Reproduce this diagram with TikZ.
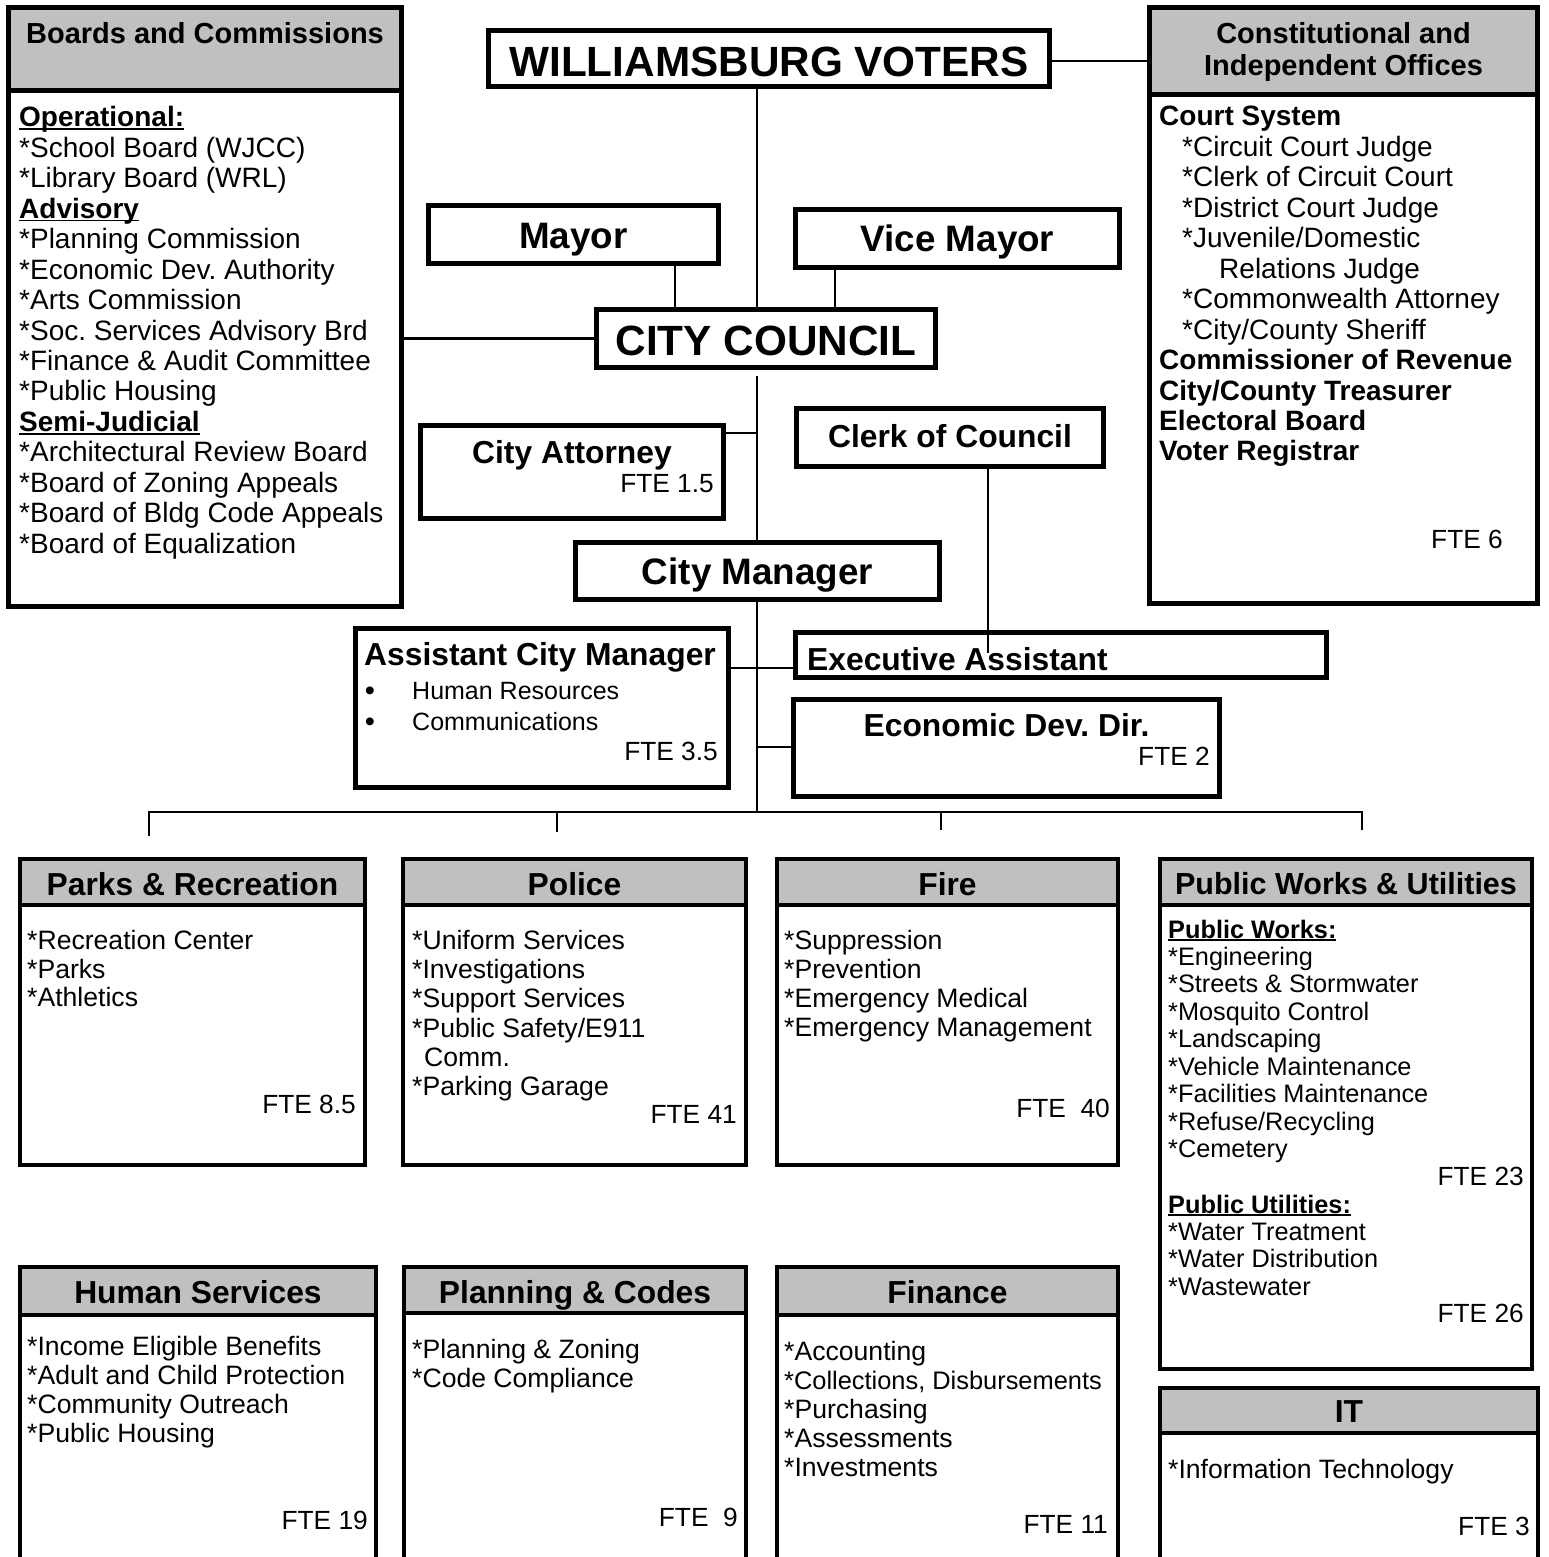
\documentclass[tikz,border=0pt]{standalone}
\usepackage{fontspec}
\setmainfont{Liberation Sans}
\usetikzlibrary{fit}
\definecolor{hdrgray}{RGB}{192,192,192}
\newcommand\fsz[1]{\fontsize{#1}{#1}\selectfont}
\newcommand\uln[1]{\leavevmode\setbox0\hbox{#1}\rlap{\rule[-3.2pt]{\wd0}{1.8pt}}\box0}
\tikzset{
  bigbox/.style={draw=black, line width=5pt, fill=white, inner sep=0pt},
  bighdr/.style={draw=black, line width=5pt, fill=hdrgray, inner sep=0pt},
  deptbox/.style={draw=black, line width=3.5pt, fill=white, inner sep=0pt},
  depthdr/.style={draw=black, line width=3.5pt, fill=hdrgray, inner sep=0pt},
  conn/.style={line width=2.2pt, draw=black},
  tx/.style={inner sep=0pt, anchor=base west},
  txc/.style={inner sep=0pt, anchor=base},
  txr/.style={inner sep=0pt, anchor=base east},
  ttlA/.style={font=\fsz{29}\bfseries},
  ttlB/.style={font=\fsz{42.3}\bfseries},
  ttlC/.style={font=\fsz{36.8}\bfseries},
  ttlD/.style={font=\fsz{31.8}\bfseries},
  bodyA/.style={font=\fsz{28}},
  bodyB/.style={font=\fsz{26.6}},
  bodyC/.style={font=\fsz{25.3}},
  fte/.style={font=\fsz{26.3}}
}
\begin{document}
\frenchspacing
\begin{tikzpicture}[x=1pt,y=-1pt]
\useasboundingbox (0,0) rectangle (1548,1557);
\clip (0,0) rectangle (1548,1557);
\fill[white] (0,0) rectangle (1548,1557);

% ---------- coordinates for connectors ----------
\coordinate (trunk) at (757,0);
\coordinate (mx) at (675,0);
\coordinate (vx) at (835,0);
\coordinate (cx) at (988,0);
\coordinate (vY) at (0,61);
\coordinate (attY) at (0,433);
\coordinate (aeY) at (0,668);
\coordinate (ecY) at (0,747);
\coordinate (busY) at (0,812);
\coordinate (d1) at (149,836);
\coordinate (d2) at (557,832);
\coordinate (d3) at (941,830);
\coordinate (d4) at (1362,830);
\coordinate (clerkEnd) at (988,653);

% ---------- Boards and Commissions ----------
\node[bigbox, fit={(8.5,7.5) (401.5,606.5)}] (boards) {};
\node[bighdr, fit={(8.5,7.5) (401.5,91)}] (boardsH) {};
\node[txc, ttlA] (boardsT) at (205,43.4) {Boards and Commissions};
\foreach \t [count=\i from 0] in {
  {\bfseries\uln{Operational:}},
  {*School Board (WJCC)},
  {*Library Board (WRL)},
  {\bfseries\uln{Advisory}},
  {*Planning Commission},
  {*Economic Dev. Authority},
  {*Arts Commission},
  {*Soc. Services Advisory Brd},
  {*Finance \& Audit Committee},
  {*Public Housing},
  {\bfseries\uln{Semi-Judicial}},
  {*Architectural Review Board},
  {*Board of Zoning Appeals},
  {*Board of Bldg Code Appeals},
  {*Board of Equalization}}
  \node[tx, bodyA] (bl\i) at (19,{127+\i*30.43}) {\t};

% ---------- Constitutional and Independent Offices ----------
\node[bigbox, fit={(1149.5,7.5) (1537.5,603.5)}] (cons) {};
\node[bighdr, fit={(1149.5,7.5) (1537.5,95)}] (consH) {};
\node[txc, ttlA] (consT1) at (1343.5,43.4) {Constitutional and};
\node[txc, ttlA] (consT2) at (1343.5,75.4) {Independent Offices};
\foreach \t [count=\i from 0] in {
  {\bfseries Court System},
  {\hspace*{23pt}*Circuit Court Judge},
  {\hspace*{23pt}*Clerk of Circuit Court},
  {\hspace*{23pt}*District Court Judge},
  {\hspace*{23pt}*Juvenile/Domestic},
  {\hspace*{60pt}Relations Judge},
  {\hspace*{23pt}*Commonwealth Attorney},
  {\hspace*{23pt}*City/County Sheriff},
  {\bfseries Commissioner of Revenue},
  {\bfseries City/County Treasurer},
  {\bfseries Electoral Board},
  {\bfseries Voter Registrar}}
  \node[tx, bodyA] (cl\i) at (1159,{126+\i*30.45}) {\t};
\node[txr, fte] (consF) at (1503,548.3) {FTE 6};

% ---------- central chain ----------
\node[bigbox, fit={(488.5,30.5) (1049.5,86.5)}] (voters) {};
\node[txc, ttlB] (votersT) at (769,76.2) {WILLIAMSBURG VOTERS};

\node[bigbox, fit={(428.5,205.5) (718.5,263.5)}] (mayor) {};
\node[txc, ttlC] (mayorT) at (573.5,248.2) {Mayor};

\node[bigbox, fit={(795.5,209.5) (1119.5,267.5)}] (vice) {};
\node[txc, ttlC] (viceT) at (957.5,251.2) {Vice Mayor};

\node[bigbox, fit={(596.5,309.5) (935.5,367.5)}] (council) {};
\node[txc, ttlB] (councilT) at (766,355.1) {CITY COUNCIL};

\node[bigbox, fit={(420.5,425.5) (723.5,518.5)}] (attorney) {};
\node[txc, ttlD] (attorneyT) at (572,463.4) {City Attorney};
\node[txr, fte] (attorneyF) at (714,492.4) {FTE 1.5};

\node[bigbox, fit={(796.5,408.5) (1103.5,466.5)}] (clerk) {};
\node[txc, ttlD] (clerkT) at (950,447.4) {Clerk of Council};

\node[bigbox, fit={(575.5,542.5) (939.5,599.5)}] (manager) {};
\node[txc, ttlC] (managerT) at (757.5,584.2) {City Manager};

\node[bigbox, fit={(355.5,628.5) (728.5,787.5)}] (asst) {};
\node[tx, ttlD] (asstT) at (364,665.4) {Assistant City Manager};
\node[txc, font=\fsz{29}] (asstB1) at (370,700) {\textbullet};
\node[tx, font=\fsz{25}] (asstL1) at (412,699) {Human Resources};
\node[txc, font=\fsz{29}] (asstB2) at (370,731) {\textbullet};
\node[tx, font=\fsz{25}] (asstL2) at (412,730) {Communications};
\node[txr, fte] (asstF) at (718,760.4) {FTE 3.5};

\node[bigbox, fit={(795.5,632.5) (1326.5,677.5)}] (exec) {};
\node[tx, ttlD] (execT) at (807,670.4) {Executive Assistant};

\node[bigbox, fit={(793.5,699.5) (1219.5,796.5)}] (econ) {};
\node[txc, ttlD] (econT) at (1006.5,736.4) {Economic Dev. Dir.};
\node[txr, fte] (econF) at (1210,765.4) {FTE 2};

% ---------- departments, first row ----------
\node[deptbox, fit={(20,859) (365,1165)}] (parks) {};
\node[depthdr, fit={(20,859) (365,905)}] (parksH) {};
\node[txc, ttlD] (parksT) at (192.5,895.4) {Parks \& Recreation};
\foreach \t [count=\i from 0] in {{*Recreation Center},{*Parks},{*Athletics}}
  \node[tx, bodyB] (pk\i) at (27,{949.5+\i*28.5}) {\t};
\node[txr, fte] (parksF) at (356,1113.4) {FTE 8.5};

\node[deptbox, fit={(403,859) (746,1165)}] (police) {};
\node[depthdr, fit={(403,859) (746,905)}] (policeH) {};
\node[txc, ttlD] (policeT) at (574.5,895.4) {Police};
\foreach \t [count=\i from 0] in {{*Uniform Services},{*Investigations},{*Support Services},{*Public Safety/E911},{\hspace*{12pt}Comm.},{*Parking Garage}}
  \node[tx, bodyB] (pl\i) at (412,{949.5+\i*29.2}) {\t};
\node[txr, fte] (policeF) at (737,1123.4) {FTE 41};

\node[deptbox, fit={(777,859) (1118,1165)}] (fire) {};
\node[depthdr, fit={(777,859) (1118,905)}] (fireH) {};
\node[txc, ttlD] (fireT) at (947.5,895.4) {Fire};
\foreach \t [count=\i from 0] in {{*Suppression},{*Prevention},{*Emergency Medical},{*Emergency Management}}
  \node[tx, bodyB] (fr\i) at (784,{949.5+\i*29}) {\t};
\node[txr, fte] (fireF) at (1110,1117.4) {FTE\ \ 40};

\node[deptbox, fit={(1160,859) (1532,1369)}] (pw) {};
\node[depthdr, fit={(1160,859) (1532,905)}] (pwH) {};
\node[txc, font=\fsz{30.5}\bfseries] (pwT) at (1346,894.9) {Public Works \& Utilities};
\foreach \t [count=\i from 0] in {
  {\bfseries\uln{Public Works:}},
  {*Engineering},
  {*Streets \& Stormwater},
  {*Mosquito Control},
  {*Landscaping},
  {*Vehicle Maintenance},
  {*Facilities Maintenance},
  {*Refuse/Recycling},
  {*Cemetery}}
  \node[tx, bodyC] (pwa\i) at (1168,{938+\i*27.43}) {\t};
\node[txr, fte] (pwF1) at (1524,1185.1) {FTE 23};
\foreach \t [count=\i from 0] in {
  {\bfseries\uln{Public Utilities:}},
  {*Water Treatment},
  {*Water Distribution},
  {*Wastewater}}
  \node[tx, bodyC] (pwb\i) at (1168,{1213+\i*27.43}) {\t};
\node[txr, fte] (pwF2) at (1524,1322.4) {FTE 26};

% ---------- departments, second row ----------
\node[deptbox, fit={(20,1267) (376,1620)}] (hs) {};
\node[depthdr, fit={(20,1267) (376,1315)}] (hsH) {};
\node[txc, ttlD] (hsT) at (198,1303.4) {Human Services};
\foreach \t [count=\i from 0] in {{*Income Eligible Benefits},{*Adult and Child Protection},{*Community Outreach},{*Public Housing}}
  \node[tx, bodyB] (hs\i) at (27,{1355.5+\i*29}) {\t};
\node[txr, fte] (hsF) at (368,1529.4) {FTE 19};

\node[deptbox, fit={(404,1267) (746,1620)}] (pc) {};
\node[depthdr, fit={(404,1267) (746,1313)}] (pcH) {};
\node[txc, ttlD] (pcT) at (575,1303.4) {Planning \& Codes};
\foreach \t [count=\i from 0] in {{*Planning \& Zoning},{*Code Compliance}}
  \node[tx, bodyB] (pcl\i) at (412,{1358.5+\i*29}) {\t};
\node[txr, fte] (pcF) at (738,1526.4) {FTE\ \ 9};

\node[deptbox, fit={(777,1267) (1118,1620)}] (fin) {};
\node[depthdr, fit={(777,1267) (1118,1315)}] (finH) {};
\node[txc, ttlD] (finT) at (947.5,1303.4) {Finance};
\foreach \t [count=\i from 0] in {{*Accounting},{\fsz{25.4}*Collections, Disbursements},{*Purchasing},{*Assessments},{*Investments}}
  \node[tx, bodyB] (fn\i) at (784,{1360.5+\i*29}) {\t};
\node[txr, fte] (finF) at (1108,1533.4) {FTE 11};

\node[deptbox, fit={(1160,1388) (1538,1620)}] (it) {};
\node[depthdr, fit={(1160,1388) (1538,1433)}] (itH) {};
\node[txc, ttlD] (itT) at (1349,1422.4) {IT};
\node[tx, bodyB] (it0) at (1168,1478.5) {*Information Technology};
\node[txr, fte] (itF) at (1530,1535.4) {FTE 3};

% ---------- connectors ----------
\draw[conn] (voters.east |- vY) -- (cons.west |- vY);
\draw[conn] (voters.south -| trunk) -- (council.north -| trunk);
\draw[conn] (mayor.south -| mx) -- (council.north -| mx);
\draw[conn] (vice.south -| vx) -- (council.north -| vx);
\draw[conn] (council.west) -- (council.west -| boards.east);
\draw[conn] ([yshift=-6pt]council.south -| trunk) -- (manager.north -| trunk);
\draw[conn] (attorney.east |- attY) -- (trunk |- attY);
\draw[conn] (clerk.south -| cx) -- (clerkEnd);
\draw[conn] (asst.east |- aeY) -- (exec.west |- aeY);
\draw[conn] (trunk |- ecY) -- (econ.west |- ecY);
\draw[conn] (manager.south -| trunk) -- (trunk |- busY);
\draw[conn] (d1) |- (d4 |- busY) -- (d4);
\draw[conn] (d2 |- busY) -- (d2);
\draw[conn] (d3 |- busY) -- (d3);
\end{tikzpicture}
\end{document}
